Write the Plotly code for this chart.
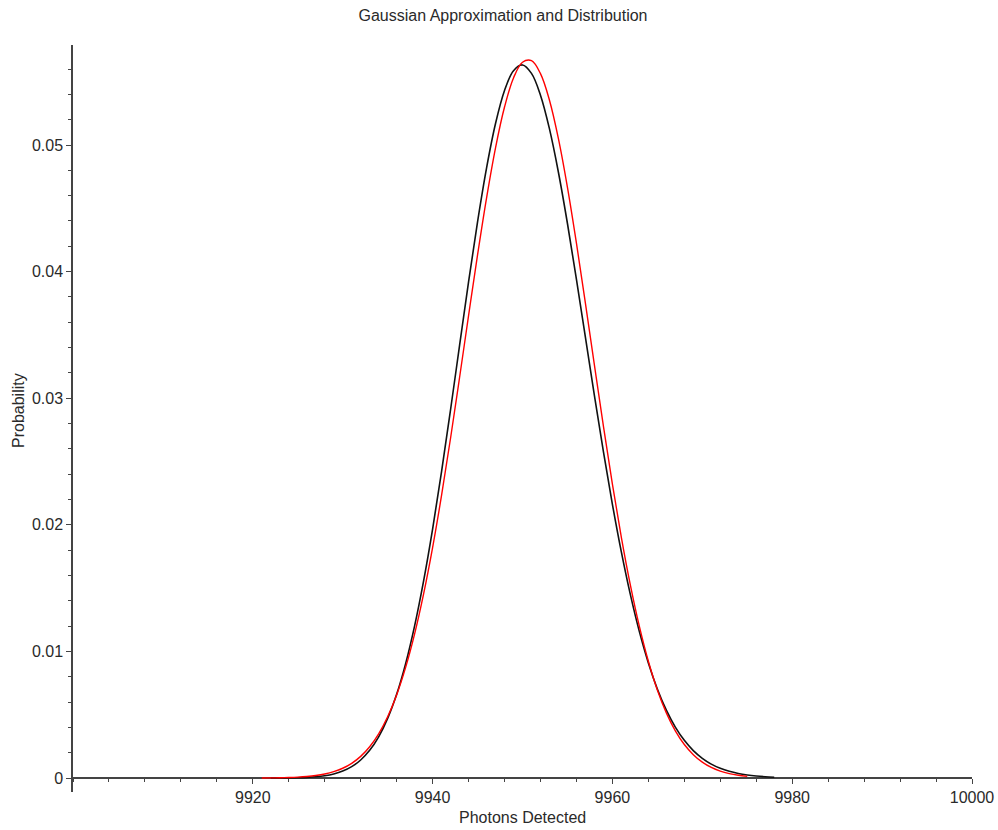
import plotly.graph_objects as go

# ---- data ----
photons_dist = list(range(9922, 9979))
prob_dist = [
    0.0000030, 0.0000065, 0.0000138, 0.0000281, 0.0000548, 0.000103, 0.000187,
    0.000326, 0.000551, 0.000902, 0.001428, 0.002190, 0.003259, 0.004710,
    0.006616, 0.009040, 0.012022, 0.015573, 0.019663, 0.024219, 0.029110,
    0.034169, 0.039188, 0.043934, 0.048177, 0.051696, 0.054305, 0.055872,
    0.056325, 0.055660, 0.053937, 0.051272, 0.047831, 0.043802, 0.039391,
    0.034799, 0.030210, 0.025775, 0.021625, 0.017843, 0.014484, 0.011568,
    0.009095, 0.007039, 0.005366, 0.004028, 0.002980, 0.002171, 0.001560,
    0.001105, 0.000772, 0.000532, 0.000361, 0.000242, 0.000160, 0.000104,
    0.000067,
]

photons_gauss = list(range(9921, 9976))
prob_gauss = [
    0.0000080, 0.0000144, 0.0000255, 0.0000442, 0.0000749, 0.000125, 0.000203,
    0.000323, 0.000506, 0.000775, 0.001164, 0.001714, 0.002471, 0.003493,
    0.004839, 0.006566, 0.008740, 0.01139, 0.01455, 0.01821, 0.02234,
    0.02686, 0.03164, 0.03652, 0.04132, 0.04581, 0.04978, 0.05300,
    0.05530, 0.05654, 0.05666, 0.05564, 0.05354, 0.05049, 0.04666,
    0.04225, 0.03750, 0.03261, 0.02779, 0.02321, 0.01900, 0.01524,
    0.01198, 0.00923, 0.00696, 0.00515, 0.00373, 0.00265, 0.00185,
    0.00126, 0.000842, 0.000552, 0.000354, 0.000223, 0.000137,
]

x_tick_vals = [9920, 9940, 9960, 9980, 10000]
x_tick_text = ["9920", "9940", "9960", "9980", "10000"]
y_tick_vals = [0, 0.01, 0.02, 0.03, 0.04, 0.05]
y_tick_text = ["0", "0.01", "0.02", "0.03", "0.04", "0.05"]

x_range = [9900, 10000]
y_range = [-0.0011, 0.0579]

FONT = "Liberation Sans, Arial, sans-serif"
TXT = "#2a2a2a"
AX = "#444444"

fig = go.Figure()
fig.add_trace(go.Scatter(
    x=photons_dist, y=prob_dist, mode="lines",
    line=dict(color="#111111", width=1.6, shape="spline", smoothing=1),
    hoverinfo="skip", showlegend=False,
))
fig.add_trace(go.Scatter(
    x=photons_gauss, y=prob_gauss, mode="lines",
    line=dict(color="#ff0000", width=1.4, shape="spline", smoothing=1),
    hoverinfo="skip", showlegend=False,
))

fig.update_layout(
    width=998, height=830,
    margin=dict(l=73, r=26, t=45, b=38, pad=0, autoexpand=False),
    paper_bgcolor="white", plot_bgcolor="white",
    font=dict(family=FONT, size=16, color=TXT),
    title=dict(
        text="Gaussian Approximation and Distribution",
        x=503 / 998, xref="container", xanchor="center",
        y=1 - 15 / 830, yref="container", yanchor="middle",
        font=dict(family=FONT, size=16, color=TXT),
    ),
    xaxis=dict(
        range=x_range, anchor="free", automargin=False,
        position=(0 - y_range[0]) / (y_range[1] - y_range[0]),
        showgrid=False, zeroline=False,
        showline=True, linecolor=AX, linewidth=1.5,
        ticks="outside", ticklen=5, tickwidth=1, tickcolor=AX,
        tickmode="array", tickvals=x_tick_vals, ticktext=x_tick_text,
        tickfont=dict(family=FONT, size=16, color=TXT),
        minor=dict(dtick=4, tick0=9900, ticks="outside", ticklen=3,
                   tickcolor=AX, tickwidth=1, showgrid=False),
        layer="below traces",
    ),
    yaxis=dict(
        range=y_range, automargin=False,
        showgrid=False, zeroline=False,
        showline=True, linecolor=AX, linewidth=1.5,
        ticks="outside", ticklen=5, tickwidth=1, tickcolor=AX,
        tickmode="array", tickvals=y_tick_vals, ticktext=y_tick_text,
        tickfont=dict(family=FONT, size=16, color=TXT),
        minor=dict(dtick=0.002, tick0=0, ticks="outside", ticklen=3,
                   tickcolor=AX, tickwidth=1, showgrid=False),
        layer="below traces",
    ),
    annotations=[
        dict(text="Photons Detected", xref="paper", yref="paper",
             x=0.5, y=0, xanchor="center", yanchor="middle", yshift=-25,
             showarrow=False, font=dict(family=FONT, size=16, color=TXT)),
        dict(text="Probability", xref="paper", yref="paper",
             x=0, y=(792 - 411) / 747, xanchor="center", yanchor="middle",
             xshift=-55, textangle=-90,
             showarrow=False, font=dict(family=FONT, size=16, color=TXT)),
    ],
)

fig.write_html("out.html", config={"displayModeBar": False},
               post_script="document.body.style.margin='0';")
